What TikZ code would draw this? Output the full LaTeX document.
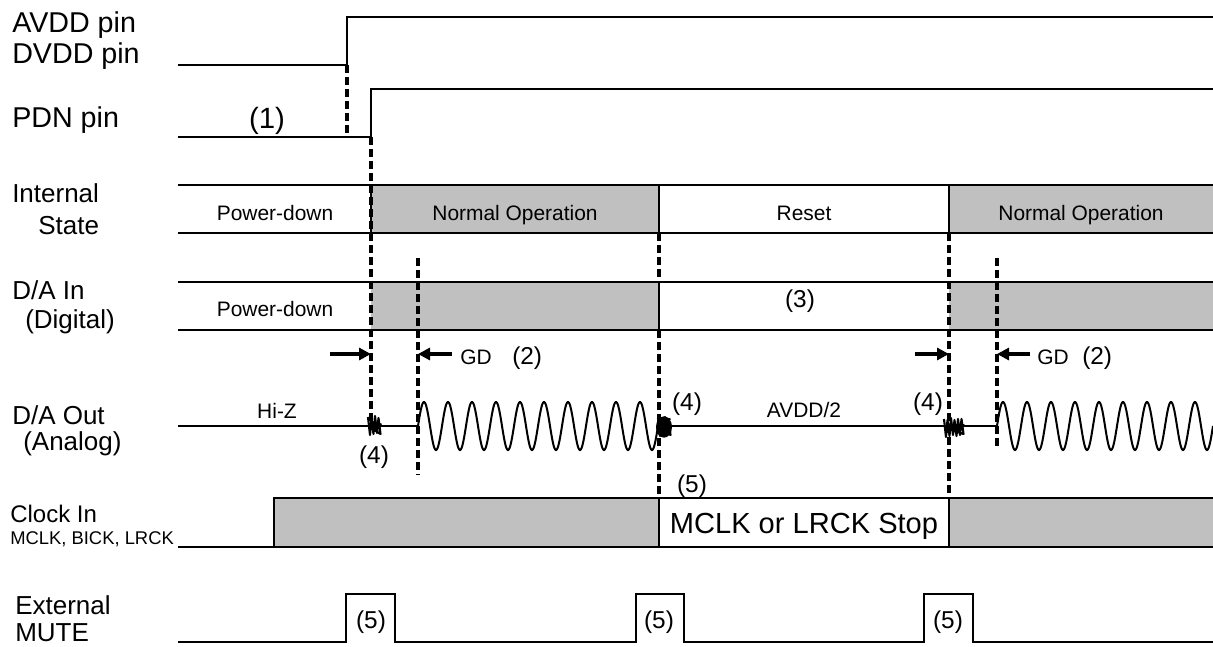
\documentclass[tikz,border=0pt]{standalone}
\usepackage{fontspec}
\setmainfont{Liberation Sans}
\usetikzlibrary{arrows.meta}
\definecolor{gbox}{HTML}{C0C0C0}
\begin{document}
\begin{tikzpicture}[x=0.75pt,y=-0.75pt,
  sig/.style={line width=1.5pt},
  guide/.style={dash pattern=on 6pt off 3pt, line width=2.3pt},
  arr/.style={line width=2.4pt,-{Triangle[length=9pt,width=9pt]}},
  scrib/.style={line width=1.6pt, line join=round},
  pin/.style={font=\fontsize{21.5}{25}\selectfont, inner sep=0pt},
  big/.style={font=\fontsize{19.5}{23}\selectfont, inner sep=0pt},
  mid/.style={font=\fontsize{18}{21}\selectfont, inner sep=0pt},
  tiny/.style={font=\fontsize{13.8}{16}\selectfont, inner sep=0pt},
  small/.style={font=\fontsize{15.7}{18}\selectfont, inner sep=0pt},
  num/.style={font=\fontsize{18.3}{21}\selectfont, inner sep=0pt},
  stop/.style={font=\fontsize{21.8}{25}\selectfont, inner sep=0pt}
]
\useasboundingbox (0,0) rectangle (1213,646);

% ---------- grey fills ----------
\fill[gbox] (371,185) rectangle (659,233);
\fill[gbox] (949,185) rectangle (1213,233);
\fill[gbox] (371,282) rectangle (659,330);
\fill[gbox] (949,282) rectangle (1213,330);
\fill[gbox] (274,498) rectangle (659,547);
\fill[gbox] (949,498) rectangle (1213,547);

% ---------- dashed guides ----------
\draw[guide] (347,65) -- (347,137);
\draw[guide] (371,137) -- (371,426);
\draw[guide] (418,258) -- (418,475);
\draw[guide] (659,233) -- (659,282);
\draw[guide] (659,330) -- (659,498);
\draw[guide] (949,233) -- (949,498);
\draw[guide] (997,258) -- (997,447);

% ---------- supplies ----------
\draw[sig] (178,65) -- (347,65) -- (347,17) -- (1213,17);
\draw[sig] (178,137) -- (371,137) -- (371,89) -- (1213,89);

% ---------- internal state ----------
\draw[sig] (178,185) -- (1213,185);
\draw[sig] (178,233) -- (1213,233);
\draw[sig] (371,185) -- (371,233);
\draw[sig] (659,185) -- (659,233);
\draw[sig] (949,185) -- (949,233);

% ---------- D/A in ----------
\draw[sig] (178,282) -- (1213,282);
\draw[sig] (178,330) -- (1213,330);
\draw[sig] (659,282) -- (659,330);

% ---------- D/A out ----------
\draw[sig] (178,426) -- (418,426);
\draw[sig] plot[domain=0:240,samples=481] ({418+\x},{426-24*sin(15*\x)});
\draw[sig] (659,426) -- (997,426);
\draw[sig] plot[domain=0:216,samples=433] ({997+\x},{426-24*sin(15*\x)});

% scribble marks (4)
\coordinate (m1) at (374,426);
\coordinate (m2) at (664,427);
\coordinate (m3) at (953,428);
\draw[scrib] (m1) ++(-6,-9) -- ++(2,18) -- ++(1.5,-17) -- ++(2,16) -- ++(1.5,-18) -- ++(2,17) -- ++(1.5,-15) -- ++(2,16) -- ++(-9,-6) -- ++(10,-4);
\draw[scrib] (m2) ++(-6,-9) -- ++(2,18) -- ++(1.5,-17) -- ++(2,16) -- ++(1.5,-18) -- ++(2,17) -- ++(1.5,-15) -- ++(2,16) -- ++(-10,-6) -- ++(11,-3) -- ++(-11,-5) -- ++(10,-2);
\fill (m2) ellipse (6pt and 8pt);
\draw[scrib] (m3) ++(-9,-9) -- ++(2,18) -- ++(1.5,-17) -- ++(2,16) -- ++(1.5,-18) -- ++(2,17) -- ++(1.5,-15) -- ++(2,16) -- ++(1.5,-17) -- ++(2,16) -- ++(1.5,-16) -- ++(2,15) -- ++(-14,-5) -- ++(15,-4);

% ---------- GD arrows ----------
\coordinate (a1s) at (330,354);
\coordinate (a1e) at (371,354);
\coordinate (a2s) at (452,354);
\coordinate (a2e) at (418,354);
\coordinate (a3s) at (915,354);
\coordinate (a3e) at (949,354);
\coordinate (a4s) at (1030,354);
\coordinate (a4e) at (997,354);
\draw[arr] (a1s) -- (a1e);
\draw[arr] (a2s) -- (a2e);
\draw[arr] (a3s) -- (a3e);
\draw[arr] (a4s) -- (a4e);

% ---------- clock in ----------
\draw[sig] (178,547) -- (274,547) -- (274,498) -- (1213,498);
\draw[sig] (274,547) -- (1213,547);
\draw[sig] (659,498) -- (659,547);
\draw[sig] (949,498) -- (949,547);

% ---------- external mute ----------
\draw[sig] (178,642) -- (346,642) -- (346,594) -- (395,594) -- (395,642)
  -- (636,642) -- (636,594) -- (684,594) -- (684,642)
  -- (924,642) -- (924,594) -- (973,594) -- (973,642) -- (1213,642);

% ---------- left labels ----------
\node[pin, anchor=base west] (lavdd) at (12,32) {AVDD pin};
\node[pin, anchor=base west] (ldvdd) at (12,63) {DVDD pin};
\node[pin, anchor=base west] (lpdn) at (12,127) {PDN pin};
\node[big, anchor=base west] (lint) at (12,202) {Internal};
\node[big, anchor=base west] (lstate) at (38,234) {State};
\node[big, anchor=base west] (ldain) at (12,299) {D/A In};
\node[big, anchor=base west] (ldig) at (25,328) {(Digital)};
\node[big, anchor=base west] (ldaout) at (12,424) {D/A Out};
\node[big, anchor=base west] (lana) at (23,450) {(Analog)};
\node[mid, anchor=base west] (lclk) at (10,522) {Clock In};
\node[tiny, anchor=base west] (lclks) at (10,544) {MCLK, BICK, LRCK};
\node[big, anchor=base west] (lext) at (15,614) {External};
\node[big, anchor=base west] (lmute) at (15,641) {MUTE};

% ---------- in-band texts ----------
\node[font=\fontsize{22}{26}\selectfont, inner sep=0pt, anchor=base] (n1) at (267,128) {(1)};
\node[small, anchor=base] (pd1) at (275,220) {Power-down};
\node[small, anchor=base] (no1) at (515,220) {Normal Operation};
\node[small, anchor=base] (rst) at (804,220) {Reset};
\node[small, anchor=base] (no2) at (1081,220) {Normal Operation};
\node[small, anchor=base] (pd2) at (275,316) {Power-down};
\node[num, anchor=base] (n3) at (800,307) {(3)};
\node[small, anchor=base west] (gd1) at (460,364) {GD};
\node[num, anchor=base west] (n2a) at (512,364) {(2)};
\node[small, anchor=base west] (gd2) at (1037,364) {GD};
\node[num, anchor=base west] (n2b) at (1082,364) {(2)};
\node[small, anchor=base] (hiz) at (277,418) {Hi-Z};
\node[small, anchor=base] (half) at (804,417) {AVDD/2};
\node[num, anchor=base] (n4a) at (374,463) {(4)};
\node[num, anchor=base] (n4b) at (687,410) {(4)};
\node[num, anchor=base] (n4c) at (928,410) {(4)};
\node[num, anchor=base] (n5a) at (692,492) {(5)};
\node[stop, anchor=base] (stp) at (804,533) {MCLK or LRCK Stop};
\node[num, anchor=base] (m5a) at (371,628) {(5)};
\node[num, anchor=base] (m5b) at (659,628) {(5)};
\node[num, anchor=base] (m5c) at (948,628) {(5)};
\end{tikzpicture}
\end{document}
